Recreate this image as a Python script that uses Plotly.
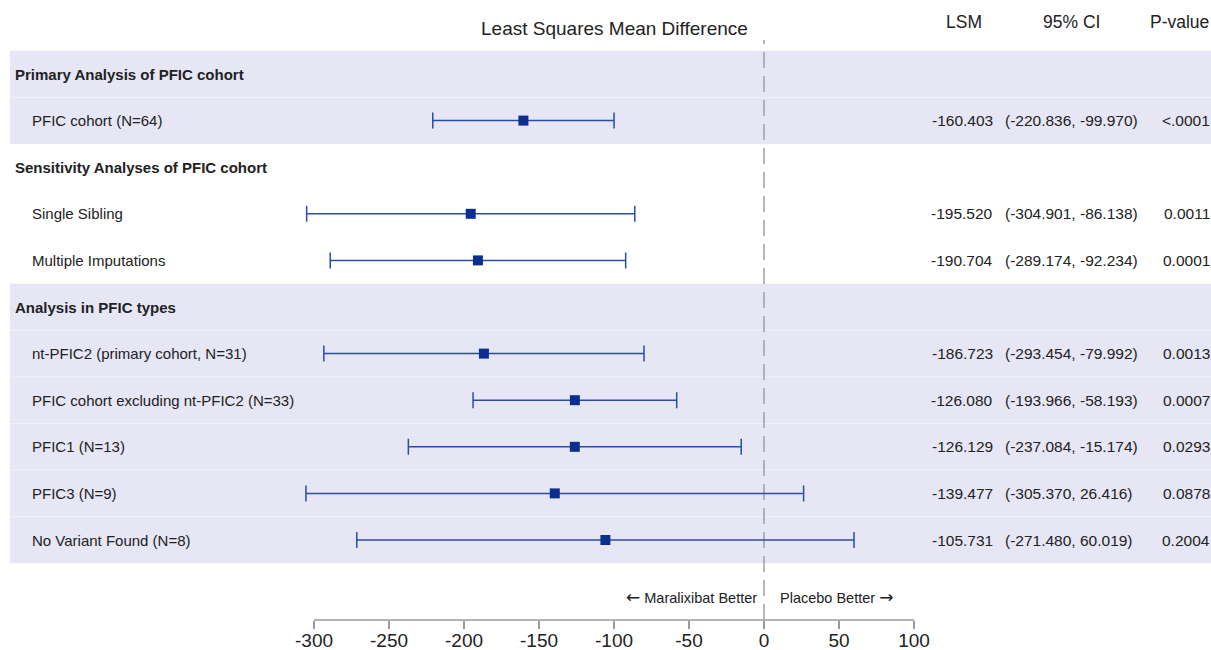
import plotly.graph_objects as go

# ---- data -------------------------------------------------------------
labels = [
    "Primary Analysis of PFIC cohort",
    "PFIC cohort (N=64)",
    "Sensitivity Analyses of PFIC cohort",
    "Single Sibling",
    "Multiple Imputations",
    "Analysis in PFIC types",
    "nt-PFIC2 (primary cohort, N=31)",
    "PFIC cohort excluding nt-PFIC2 (N=33)",
    "PFIC1 (N=13)",
    "PFIC3 (N=9)",
    "No Variant Found (N=8)",
]
is_header = [True, False, True, False, False, True, False, False, False, False, False]
shaded = [True, True, False, False, False, True, True, True, True, True, True]
lsm = [None, -160.403, None, -195.520, -190.704, None, -186.723, -126.080, -126.129, -139.477, -105.731]
ci_low = [None, -220.836, None, -304.901, -289.174, None, -293.454, -193.966, -237.084, -305.370, -271.480]
ci_high = [None, -99.970, None, -86.138, -92.234, None, -79.992, -58.193, -15.174, 26.416, 60.019]
pvalues = [None, "<.0001", None, "0.0011", "0.0001", None, "0.0013", "0.0007", "0.0293", "0.0878", "0.2004"]
tick_values = [-300, -250, -200, -150, -100, -50, 0, 50, 100]

# ---- geometry ---------------------------------------------------------
W, H = 1211, 650
PLOT_BOTTOM = 620          # pixel row of the x axis
ZERO_PX = 764              # pixel column of x = 0
PX_PER_UNIT = 1.5
ROW0_PX, ROW_STEP = 74, 46.6

x_range = [-ZERO_PX / PX_PER_UNIT, (W - ZERO_PX) / PX_PER_UNIT]
y_range = [(PLOT_BOTTOM - ROW0_PX) / ROW_STEP, -ROW0_PX / ROW_STEP]


def px_x(p):
    return p / W


def px_y(p):
    return 1 - p / PLOT_BOTTOM


FONT = "Liberation Sans, Arial, sans-serif"
TXT = "#222222"
BAND = "#E6E6F5"
LINE_BLUE = "#2A4DA6"
MARK_BLUE = "#0B2F8F"
LABEL_SIZE = 15
VALUE_SIZE = 15.5

rows = list(range(len(labels)))
est_rows = [i for i in rows if lsm[i] is not None]

fig = go.Figure()

fig.add_trace(go.Scatter(
    x=[lsm[i] for i in est_rows],
    y=est_rows,
    mode="markers",
    marker=dict(symbol="square", size=10, color=MARK_BLUE),
    error_x=dict(
        type="data",
        symmetric=False,
        array=[ci_high[i] - lsm[i] for i in est_rows],
        arrayminus=[lsm[i] - ci_low[i] for i in est_rows],
        color=LINE_BLUE,
        thickness=1.5,
        width=8,
    ),
    hoverinfo="skip",
    showlegend=False,
))

shapes = []
# shaded row bands
for i in rows:
    if shaded[i]:
        shapes.append(dict(type="rect", xref="paper", yref="y",
                           x0=px_x(10), x1=1, y0=i - 0.5, y1=i + 0.5,
                           fillcolor=BAND, line=dict(width=0), layer="below"))
# faint separators between adjacent shaded rows
for i in rows[:-1]:
    if shaded[i] and shaded[i + 1]:
        shapes.append(dict(type="line", xref="paper", yref="y",
                           x0=px_x(10), x1=1, y0=i + 0.5, y1=i + 0.5,
                           line=dict(color="#F2F2FA", width=1), layer="below"))
# reference line at zero
shapes.append(dict(type="line", xref="x", yref="paper", x0=0, x1=0,
                   y0=0, y1=px_y(40),
                   line=dict(color="#8A8A8A", width=1.2, dash="16px,8px"),
                   layer="below"))
# x axis line spanning the tick range
shapes.append(dict(type="line", xref="x", yref="paper",
                   x0=tick_values[0], x1=tick_values[-1], y0=0, y1=0,
                   line=dict(color="#9A9A9A", width=1.5)))


def note(text, x, y, xanchor, size, yref="y", yanchor="middle"):
    return dict(x=px_x(x), y=y, xref="paper", yref=yref, text=text,
                showarrow=False, xanchor=xanchor, yanchor=yanchor,
                borderpad=0, font=dict(family=FONT, size=size, color=TXT))


annotations = []
for i in rows:
    if is_header[i]:
        annotations.append(note(f"<b>{labels[i]}</b>", 14, i, "left", LABEL_SIZE))
    else:
        annotations.append(note(labels[i], 31, i, "left", LABEL_SIZE))
    if lsm[i] is not None:
        annotations.append(note(f"{lsm[i]:.3f}", 994, i, "right", VALUE_SIZE))
        annotations.append(note(f"({ci_low[i]:.3f}, {ci_high[i]:.3f})",
                                1004, i, "left", VALUE_SIZE))
        annotations.append(note(pvalues[i], 1211, i, "right", VALUE_SIZE))

# column headers
headers = [("Least Squares Mean Difference", 614, 28, 19),
           ("LSM", 964, 22, 17.5),
           ("95% CI", 1071, 22, 17.5),
           ("P-value", 1179, 22, 17.5)]
for text, cx, cy, size in headers:
    annotations.append(note(text, cx, px_y(cy), "center", size, yref="paper"))

# direction labels
ARROW = '<span style="font-family:DejaVu Sans;font-size:17px">{}</span>'
annotations.append(note(ARROW.format("\u2190") + " Maralixibat Better",
                        758, px_y(597), "right", 14.5, yref="paper"))
annotations.append(note("Placebo Better " + ARROW.format("\u2192"),
                        779, px_y(597), "left", 14.5, yref="paper"))

fig.update_layout(
    width=W, height=H,
    margin=dict(l=0, r=0, t=0, b=H - PLOT_BOTTOM, autoexpand=False),
    paper_bgcolor="white", plot_bgcolor="rgba(0,0,0,0)",
    shapes=shapes, annotations=annotations,
    xaxis=dict(range=x_range, tickvals=tick_values,
               ticktext=[str(v) for v in tick_values],
               ticks="outside", ticklen=8, tickwidth=1.5, tickcolor="#9A9A9A",
               ticklabelstandoff=-5,
               tickfont=dict(family=FONT, size=19, color=TXT),
               automargin=False,
               showgrid=False, zeroline=False, showline=False, fixedrange=True),
    yaxis=dict(range=y_range, visible=False, showgrid=False, zeroline=False,
               automargin=False, fixedrange=True),
)

fig.write_html("out.html")
